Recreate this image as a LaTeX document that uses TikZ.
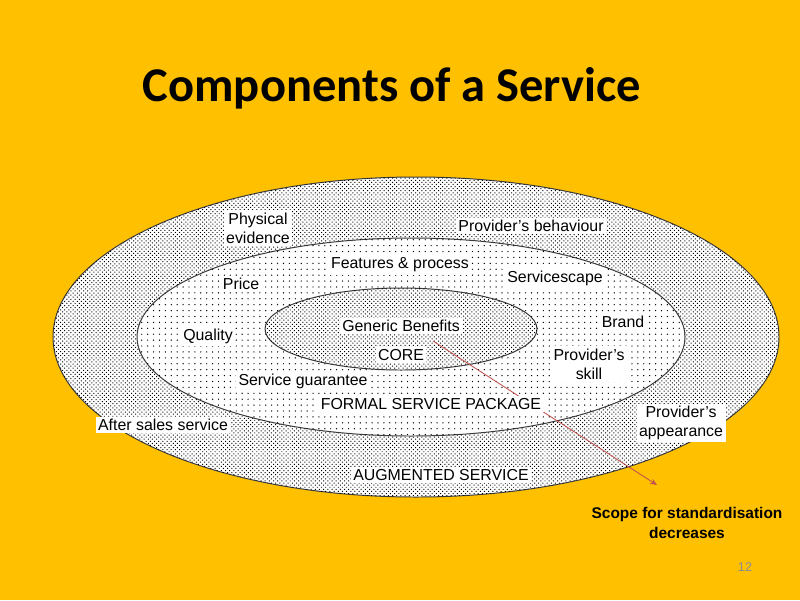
\documentclass[tikz,border=0pt]{standalone}
\usepackage{fontspec}
\setmainfont{Liberation Sans}
\newfontfamily\titlefont{Carlito}
\usetikzlibrary{arrows.meta, patterns.meta}
\definecolor{ambar}{HTML}{FFC000}
\definecolor{tinta}{HTML}{1A1A1A}
\definecolor{borde}{HTML}{3A3A3A}
\definecolor{rojizo}{HTML}{C0504D}
\definecolor{grisnum}{HTML}{8C8C8C}
\tikzset{
  every picture/.style={>=Stealth},
  capa/.style={draw=borde, line width=0.7pt, fill=white},
  densa/.style={pattern={Dots[distance=2.1pt, radius=0.5pt, angle=45]}, pattern color=black},
  rala/.style={pattern={Dots[distance=4.2pt, radius=0.5pt]}, pattern color=black},
  etiq/.style={fill=white, text=black, inner sep=1.8pt, font=\fontsize{11.3}{13.5}\selectfont, align=center},
  flechar/.style={-{Stealth[length=5pt, width=4pt]}, line width=0.6pt, rojizo},
}
\begin{document}
\begin{tikzpicture}[x=0.025cm, y=-0.025cm]
  \fill[ambar] (0,0) rectangle (800,600);
  \useasboundingbox (0,0) rectangle (800,600);

  \node[font=\titlefont\bfseries\fontsize{34.5}{40}\selectfont, text=black] (titulo) at (392,88) {Components of a Service};

  \path[capa] (416,337) ellipse [x radius=363, y radius=160];
  \path[densa] (416,337) ellipse [x radius=363, y radius=160];
  \path[capa] (411,337) ellipse [x radius=274, y radius=99];
  \path[rala] (411,337) ellipse [x radius=274, y radius=99];
  \path[capa] (401,329) ellipse [x radius=136, y radius=41];
  \path[densa] (401,329) ellipse [x radius=136, y radius=41];

  \coordinate (origen) at (433,341);
  \coordinate (destino) at (657,485);
  \draw[flechar] (origen) -- (destino);

  \node[etiq] (fisica) at (258,228) {Physical\\evidence};
  \node[etiq] (conducta) at (531,226) {Provider’s behaviour};
  \node[etiq] (rasgos) at (400,265) {Features \& process};
  \node[etiq] (escenario) at (555,278) {Servicescape};
  \node[etiq] (precio) at (241,284) {Price};
  \node[etiq] (marca) at (623,322) {Brand};
  \node[etiq] (calidad) at (208,336) {Quality};
  \node[etiq] (genericos) at (401,326) {Generic Benefits};
  \node[etiq] (nucleo) at (401,355) {CORE};
  \node[etiq] (habilidad) at (589,364) {Provider’s\\skill};
  \node[etiq] (garantia) at (303,381) {Service guarantee};
  \node[etiq] (formal) at (431,404) {FORMAL SERVICE PACKAGE};
  \node[etiq] (posventa) at (163,425) {After sales service};
  \node[etiq] (apariencia) at (681,423) {Provider’s\\appearance};
  \node[etiq] (aumentado) at (441,475) {AUGMENTED SERVICE};

  \node[font=\bfseries\fontsize{11}{14}\selectfont, align=center, text=black] (alcance) at (687,523) {Scope for standardisation\\decreases};
  \node[font=\fontsize{9}{11}\selectfont, text=grisnum] (pagina) at (745,567) {12};
\end{tikzpicture}
\end{document}
